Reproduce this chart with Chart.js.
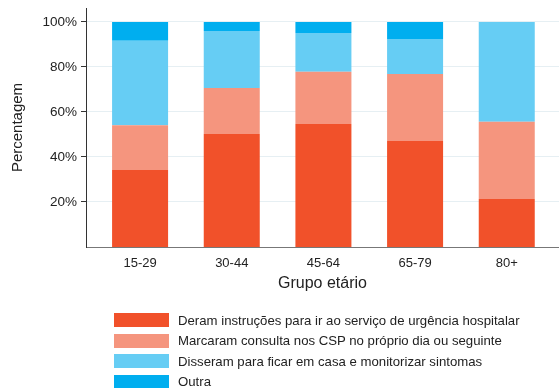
<!DOCTYPE html>
<html>
<head>
<meta charset="utf-8">
<script src="https://cdn.jsdelivr.net/npm/chart.js@4.4.1/dist/chart.umd.min.js"></script>
<style>
  html, body { margin: 0; padding: 0; background: #fff; }
  #wrap { position: relative; width: 559px; height: 388px; }
  #c { position: absolute; left: 0; top: 0; }
  #legend { position: absolute; left: 114px; top: 310px; font-family: "Liberation Sans", Arial, Helvetica, sans-serif; font-size: 13.2px; color: #222; }
  .item { display: flex; align-items: center; height: 20.5px; white-space: nowrap; }
  .box { width: 55px; height: 14px; margin-right: 9px; }
</style>
</head>
<body>
<div id="wrap">
  <canvas id="c" width="559" height="388"></canvas>
  <div id="legend"></div>
</div>
<script>
const categories = ["15-29", "30-44", "45-64", "65-79", "80+"];
const seriesNames = [
  "Deram instruções para ir ao serviço de urgência hospitalar",
  "Marcaram consulta nos CSP no próprio dia ou seguinte",
  "Disseram para ficar em casa e monitorizar sintomas",
  "Outra"
];
const urgencia = [34.2, 50.2, 54.7, 47.1, 21.3];
const consulta = [19.9, 20.5, 23.2, 29.8, 34.3];
const casa     = [37.5, 25.3, 17.2, 15.5, 44.4];
const outra    = [8.4, 4.0, 4.9, 7.6, 0];
const yTicks = [20, 40, 60, 80, 100];
const colors = ["#F1512A", "#F5957E", "#66CDF4", "#00AEEF"];

const series = [urgencia, consulta, casa, outra];
const datasets = series.map((vals, s) => ({
  label: seriesNames[s],
  data: vals.map((v, i) => ({ x: i, y: v })),
  backgroundColor: colors[s],
  borderWidth: 0,
  categoryPercentage: 0.611,
  barPercentage: 1
}));

const font = "'Liberation Sans', Arial, Helvetica, sans-serif";

new Chart(document.getElementById('c'), {
  type: 'bar',
  data: { datasets },
  options: {
    responsive: false,
    animation: false,
    layout: { padding: { left: 0, top: 8, right: 0, bottom: 91 } },
    plugins: { legend: { display: false }, tooltip: { enabled: false } },
    scales: {
      x: {
        type: 'linear',
        stacked: true,
        min: -0.59,
        max: 4.57,
        offset: false,
        afterFit: s => { s.height = 50; s.paddingLeft = 0; s.paddingRight = 0; },
        afterBuildTicks: s => { s.ticks = categories.map((c, i) => ({ value: i })); },
        ticks: {
          autoSkip: false,
          maxRotation: 0,
          padding: 9,
          color: '#222',
          font: { family: font, size: 13 },
          callback: v => categories[v]
        },
        grid: { display: false, drawTicks: false },
        border: { display: true, color: '#777', width: 1 },
        title: {
          display: true,
          text: 'Grupo etário',
          color: '#222',
          font: { family: font, size: 16 },
          padding: { top: 0, bottom: 4 }
        }
      },
      y: {
        stacked: true,
        min: 0,
        max: 106.2,
        afterFit: s => { s.width = 86; s.paddingTop = 0; s.paddingBottom = 0; },
        afterBuildTicks: s => { s.ticks = yTicks.map(v => ({ value: v })); },
        ticks: {
          padding: 4,
          color: '#222',
          font: { family: font, size: 13.5 },
          callback: v => v + '%'
        },
        grid: { color: '#e6eff3', lineWidth: 1, tickLength: 5, tickColor: '#333', drawTicks: true },
        border: { display: true, color: '#333', width: 1 },
        title: {
          display: true,
          text: 'Percentagem',
          color: '#222',
          font: { family: font, size: 15 },
          padding: { top: 9, bottom: 0 }
        }
      }
    }
  }
});

const leg = document.getElementById('legend');
seriesNames.forEach((n, i) => {
  const d = document.createElement('div');
  d.className = 'item';
  const b = document.createElement('span');
  b.className = 'box';
  b.style.background = colors[i];
  const t = document.createElement('span');
  t.textContent = n;
  d.appendChild(b); d.appendChild(t);
  leg.appendChild(d);
});
</script>
</body>
</html>
